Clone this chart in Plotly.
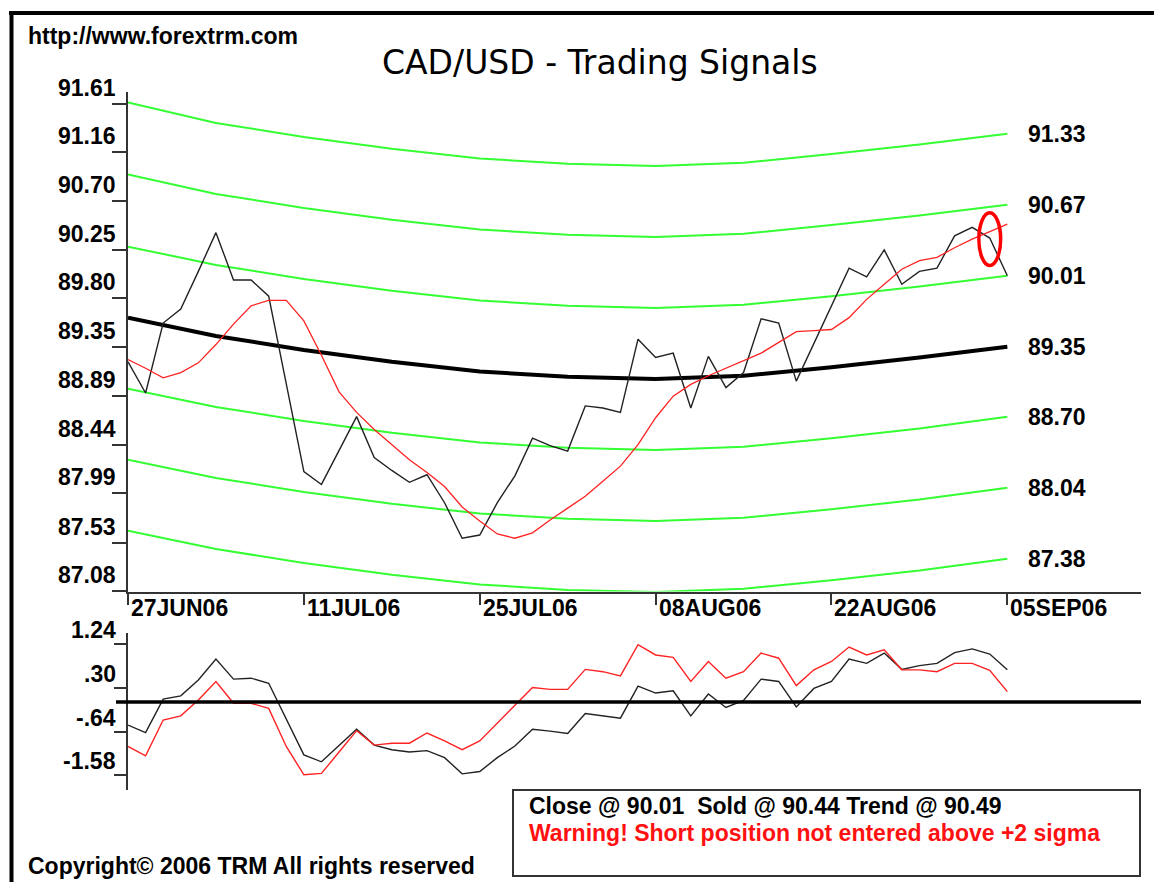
import plotly.graph_objects as go

W, H = 1154, 882

# trading-day index, 27JUN06 .. 05SEP06
days = list(range(51))

close = [89.21, 88.92, 89.57, 89.70, 90.05, 90.41, 89.97, 89.97, 89.82, 89.02,
         88.19, 88.07, 88.39, 88.70, 88.32, 88.20, 88.09, 88.16, 87.90, 87.57,
         87.60, 87.90, 88.15, 88.50, 88.43, 88.38, 88.80, 88.78, 88.74, 89.42,
         89.25, 89.29, 88.78, 89.26, 88.97, 89.11, 89.61, 89.57, 89.03, 89.38,
         89.73, 90.08, 90.00, 90.25, 89.93, 90.05, 90.08, 90.38, 90.46, 90.36,
         90.01]

avg = [89.23, 89.15, 89.06, 89.11, 89.20, 89.37, 89.56, 89.73, 89.78, 89.78,
       89.59, 89.27, 88.93, 88.74, 88.58, 88.44, 88.30, 88.18, 88.05, 87.86,
       87.73, 87.61, 87.57, 87.62, 87.74, 87.85, 87.96, 88.10, 88.24, 88.44,
       88.69, 88.89, 89.00, 89.08, 89.15, 89.22, 89.29, 89.39, 89.49, 89.50,
       89.51, 89.62, 89.79, 89.93, 90.07, 90.15, 90.18, 90.27, 90.35, 90.42,
       90.49]

# regression trend and sigma bands, read every 5 days
band_days = [0, 5, 10, 15, 20, 25, 30, 35, 40, 45, 50]
upper3 = [91.62, 91.43, 91.30, 91.19, 91.10, 91.05, 91.03, 91.06, 91.14, 91.23, 91.33]
upper2 = [90.95, 90.77, 90.64, 90.53, 90.44, 90.39, 90.37, 90.40, 90.48, 90.57, 90.67]
upper1 = [90.28, 90.11, 89.98, 89.87, 89.78, 89.73, 89.71, 89.74, 89.82, 89.91, 90.01]
trend = [89.62, 89.45, 89.32, 89.21, 89.12, 89.07, 89.05, 89.08, 89.16, 89.25, 89.35]
lower1 = [88.96, 88.79, 88.66, 88.55, 88.46, 88.41, 88.39, 88.42, 88.50, 88.59, 88.70]
lower2 = [88.30, 88.13, 88.00, 87.89, 87.80, 87.75, 87.73, 87.76, 87.84, 87.93, 88.04]
lower3 = [87.64, 87.47, 87.34, 87.23, 87.14, 87.09, 87.07, 87.10, 87.18, 87.27, 87.38]

# oscillator panel
osc_close = [-0.50, -0.66, 0.06, 0.13, 0.47, 0.92, 0.49, 0.51, 0.40, -0.38,
             -1.14, -1.29, -0.93, -0.59, -0.93, -1.03, -1.08, -1.05, -1.20, -1.55,
             -1.50, -1.20, -0.95, -0.59, -0.63, -0.68, -0.25, -0.30, -0.35, 0.34,
             0.19, 0.24, -0.30, 0.17, -0.12, 0.03, 0.49, 0.44, -0.11, 0.29,
             0.44, 0.92, 0.83, 1.05, 0.70, 0.78, 0.83, 1.06, 1.14, 1.03,
             0.69]
osc_avg = [-0.96, -1.16, -0.39, -0.30, 0.04, 0.44, -0.03, -0.03, -0.14, -0.96,
           -1.57, -1.54, -1.08, -0.62, -0.93, -0.89, -0.89, -0.67, -0.84, -1.03,
           -0.84, -0.46, -0.06, 0.31, 0.27, 0.27, 0.70, 0.65, 0.56, 1.23,
           1.01, 0.96, 0.44, 0.87, 0.51, 0.65, 1.05, 0.94, 0.35, 0.69,
           0.87, 1.18, 1.01, 1.12, 0.69, 0.69, 0.65, 0.83, 0.83, 0.68,
           0.22]

price_ticks = ['91.61', '91.16', '90.70', '90.25', '89.80', '89.35',
               '88.89', '88.44', '87.99', '87.53', '87.08']
band_labels = ['91.33', '90.67', '90.01', '89.35', '88.70', '88.04', '87.38']
osc_ticks = ['1.24', '.30', '-.64', '-1.58']
date_idx = [0, 10, 20, 30, 40, 50]
date_labels = ['27JUN06', '11JUL06', '25JUL06', '08AUG06', '22AUG06', '05SEP06']

sold_idx = 49
sold_price = 90.35


def px(x):
    return x / W


def py(y):
    return 1 - y / H


FONT = 'Liberation Sans'
GREEN = '#33ff33'
AXIS = '#333333'

fig = go.Figure()

# sigma bands
for band in [upper3, upper2, upper1, lower1, lower2, lower3]:
    fig.add_trace(go.Scatter(x=band_days, y=band, mode='lines',
                             line=dict(color=GREEN, width=2), showlegend=False,
                             xaxis='x', yaxis='y'))
# trend
fig.add_trace(go.Scatter(x=band_days, y=trend, mode='lines',
                         line=dict(color='black', width=4), showlegend=False,
                         xaxis='x', yaxis='y'))
# close and average
fig.add_trace(go.Scatter(x=days, y=close, mode='lines',
                         line=dict(color='#222222', width=1.4), showlegend=False,
                         xaxis='x', yaxis='y'))
fig.add_trace(go.Scatter(x=days, y=avg, mode='lines',
                         line=dict(color='#ff2222', width=1.3), showlegend=False,
                         xaxis='x', yaxis='y'))

# oscillator
fig.add_trace(go.Scatter(x=days, y=osc_close, mode='lines',
                         line=dict(color='#222222', width=1.4), showlegend=False,
                         xaxis='x2', yaxis='y2'))
fig.add_trace(go.Scatter(x=days, y=osc_avg, mode='lines',
                         line=dict(color='#ff2222', width=1.4), showlegend=False,
                         xaxis='x2', yaxis='y2'))

x_dom = [px(128), px(1141)]
x_rng = [0, 57.6]

ann = []
shapes = []

# price axis labels sit above their ticks
for t in price_ticks:
    ann.append(dict(x=px(118), xref='paper', y=float(t), yref='y', text=t,
                    xanchor='right', yanchor='middle', yshift=16, showarrow=False,
                    font=dict(family=FONT, size=23, color='black', weight='bold')))
for t in osc_ticks:
    ann.append(dict(x=px(118), xref='paper', y=float(t), yref='y2', text=t,
                    xanchor='right', yanchor='middle', yshift=14, showarrow=False,
                    font=dict(family=FONT, size=23, color='black', weight='bold')))
for t in band_labels:
    ann.append(dict(x=50, xref='x', y=float(t), yref='y', text=t,
                    xanchor='left', yanchor='middle', xshift=19, showarrow=False,
                    font=dict(family=FONT, size=23, color='black', weight='bold')))
for i, d in zip(date_idx, date_labels):
    ann.append(dict(x=i, xref='x', y=py(608), yref='paper', text=d,
                    xanchor='left', yanchor='middle', xshift=1, showarrow=False,
                    font=dict(family=FONT, size=23, color='black', weight='bold')))

ann.append(dict(x=px(26), xref='paper', y=py(36), yref='paper',
                text='http://www.forextrm.com', xanchor='left', yanchor='middle',
                showarrow=False,
                font=dict(family=FONT, size=23, color='black', weight='bold')))
ann.append(dict(x=px(600), xref='paper', y=py(62), yref='paper',
                text='CAD/USD - Trading Signals', xanchor='center', yanchor='middle',
                showarrow=False, font=dict(family='DejaVu Sans', size=33, color='black')))
ann.append(dict(x=px(26), xref='paper', y=py(866), yref='paper',
                text='Copyright\u00a9 2006 TRM All rights reserved', xanchor='left',
                yanchor='middle', showarrow=False,
                font=dict(family=FONT, size=23, color='black', weight='bold')))
ann.append(dict(x=px(527), xref='paper', y=py(806), yref='paper',
                text='Close @ 90.01  Sold @ 90.44 Trend @ 90.49', xanchor='left',
                yanchor='middle', showarrow=False,
                font=dict(family=FONT, size=23, color='black', weight='bold')))
ann.append(dict(x=px(527), xref='paper', y=py(833), yref='paper',
                text='Warning! Short position not entered above +2 sigma', xanchor='left',
                yanchor='middle', showarrow=False,
                font=dict(family=FONT, size=23, color='#ff1111', weight='bold')))

# frame edges
shapes.append(dict(type='line', xref='paper', yref='paper', x0=px(9), x1=1,
                   y0=py(13), y1=py(13), line=dict(color='black', width=4)))
shapes.append(dict(type='line', xref='paper', yref='paper', x0=px(11.5), x1=px(11.5),
                   y0=py(11), y1=0, line=dict(color='black', width=4)))
# oscillator zero line
shapes.append(dict(type='line', xref='paper', yref='y2', x0=px(116), x1=px(1141),
                   y0=0, y1=0, line=dict(color='black', width=3.5)))
# info box
shapes.append(dict(type='rect', xref='paper', yref='paper', x0=px(513), x1=px(1140),
                   y0=py(790), y1=py(876), line=dict(color=AXIS, width=2),
                   fillcolor='white', layer='below'))
# signal marker
shapes.append(dict(type='circle', xref='x', yref='y', x0=sold_idx - 0.62,
                   x1=sold_idx + 0.62, y0=sold_price - 0.245, y1=sold_price + 0.245,
                   line=dict(color='#ff0000', width=3.5)))

fig.update_layout(
    width=W, height=H,
    margin=dict(l=0, r=0, t=0, b=0),
    paper_bgcolor='white', plot_bgcolor='white',
    showlegend=False,
    xaxis=dict(domain=x_dom, range=x_rng, anchor='y', showgrid=False, zeroline=False,
               showline=True, linecolor=AXIS, linewidth=2, ticks='outside',
               tickvals=date_idx, ticklen=11, tickwidth=2, tickcolor=AXIS,
               showticklabels=False, fixedrange=True),
    yaxis=dict(domain=[py(591.5), py(91.7)], range=[87.075, 91.72], anchor='x',
               showgrid=False, zeroline=False, showline=True, linecolor=AXIS,
               linewidth=2, ticks='outside', tickvals=[float(t) for t in price_ticks],
               ticklen=14, tickwidth=2, tickcolor=AXIS, showticklabels=False,
               fixedrange=True),
    xaxis2=dict(domain=x_dom, range=x_rng, anchor='y2', visible=False, fixedrange=True),
    yaxis2=dict(domain=[py(790), py(633)], range=[-1.897, 1.483], anchor='x2',
                showgrid=False, zeroline=False, showline=True, linecolor=AXIS,
                linewidth=2, ticks='outside', tickvals=[float(t) for t in osc_ticks],
                ticklen=12, tickwidth=2, tickcolor=AXIS, showticklabels=False,
                fixedrange=True),
    annotations=ann,
    shapes=shapes,
)

fig.write_html("out.html", config={'displayModeBar': False},
               post_script="document.body.style.margin='0';")
